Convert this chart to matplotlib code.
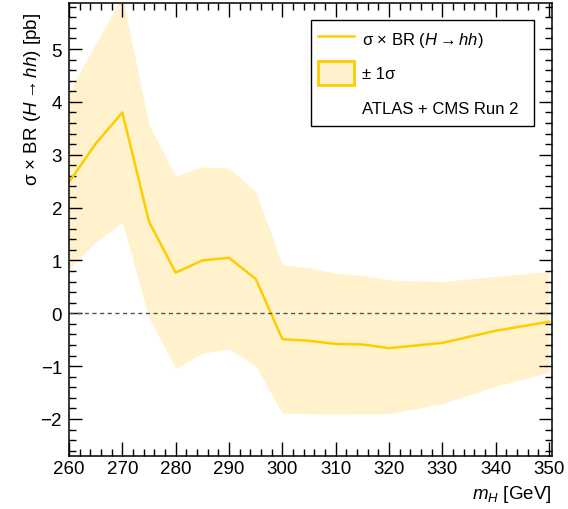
import matplotlib.pyplot as plt
from matplotlib.lines import Line2D
from matplotlib.patches import Patch
from matplotlib.ticker import MultipleLocator

plt.rcParams['font.family'] = ['Liberation Sans', 'DejaVu Sans']
plt.rcParams['mathtext.fontset'] = 'custom'
plt.rcParams['mathtext.rm'] = 'Liberation Sans'
plt.rcParams['mathtext.it'] = 'Liberation Sans:italic'

# Heavy Higgs mass points [GeV] and combined sigma x BR [pb]
mass = [260, 265, 270, 275, 280, 285, 290, 295, 300, 305, 310, 315, 320, 330, 340, 350]
xsec = [2.48, 3.21, 3.80, 1.73, 0.77, 1.00, 1.05, 0.65, -0.49, -0.52, -0.58, -0.59, -0.66, -0.56, -0.33, -0.16]
band_up = [4.19, 5.10, 6.00, 3.56, 2.60, 2.77, 2.75, 2.30, 0.92, 0.86, 0.76, 0.72, 0.63, 0.60, 0.70, 0.79]
band_lo = [0.84, 1.35, 1.72, -0.09, -1.04, -0.76, -0.67, -1.00, -1.89, -1.90, -1.91, -1.90, -1.90, -1.71, -1.38, -1.12]

gold = '#FFCC00'
light = '#FFF2CC'

fig = plt.figure(figsize=(5.68, 5.10), dpi=100)
ax = fig.add_axes([0.1215, 0.104, 0.850, 0.888])

ax.fill_between(mass, band_lo, band_up, color=light, lw=0)
ax.plot(mass, xsec, color=gold, lw=1.8)
ax.axhline(0, color='#555555', lw=1.0, ls=(0, (3, 2.5)))

ax.set_xlim(260, 350.5)
ax.set_ylim(-2.70, 5.87)
ax.xaxis.set_major_locator(MultipleLocator(10))
ax.xaxis.set_minor_locator(MultipleLocator(2))
ax.yaxis.set_major_locator(MultipleLocator(1))
ax.yaxis.set_minor_locator(MultipleLocator(0.2))
ax.tick_params(which='both', direction='in', top=True, right=True, labelsize=13.5, width=1.0)
ax.tick_params(axis='y', which='major', length=9.5, pad=5)
ax.tick_params(axis='y', which='minor', length=4.8)
ax.tick_params(axis='x', which='major', length=10, pad=3)
ax.tick_params(axis='x', which='minor', length=5)
for s in ax.spines.values():
    s.set_linewidth(1.1)

ax.set_xlabel('$m_H$ [GeV]', fontsize=13.5, loc='right')
ax.set_ylabel('σ × BR ($H \\rightarrow hh$) [pb]', fontsize=13.5, loc='top')
ax.yaxis.set_label_coords(-0.054, 0.98)

handles = [
    Line2D([], [], color=gold, lw=1.8),
    Patch(facecolor=light, edgecolor=gold, lw=2),
    Line2D([], [], color='none'),
]
labels = ['σ × BR ($H \\rightarrow hh$)', '± 1σ', 'ATLAS + CMS Run 2']
leg = ax.legend(handles, labels, loc='upper left', bbox_to_anchor=(0.501, 0.726, 0.462, 0.236),
                mode='expand', fontsize=12, frameon=True, fancybox=False, edgecolor='black',
                framealpha=1, handlelength=2.2, handleheight=1.85, handletextpad=0.45,
                labelspacing=0.6, borderpad=0.4, borderaxespad=0)
leg.get_frame().set_linewidth(1.0)

fig.savefig('out.png', dpi=100)
